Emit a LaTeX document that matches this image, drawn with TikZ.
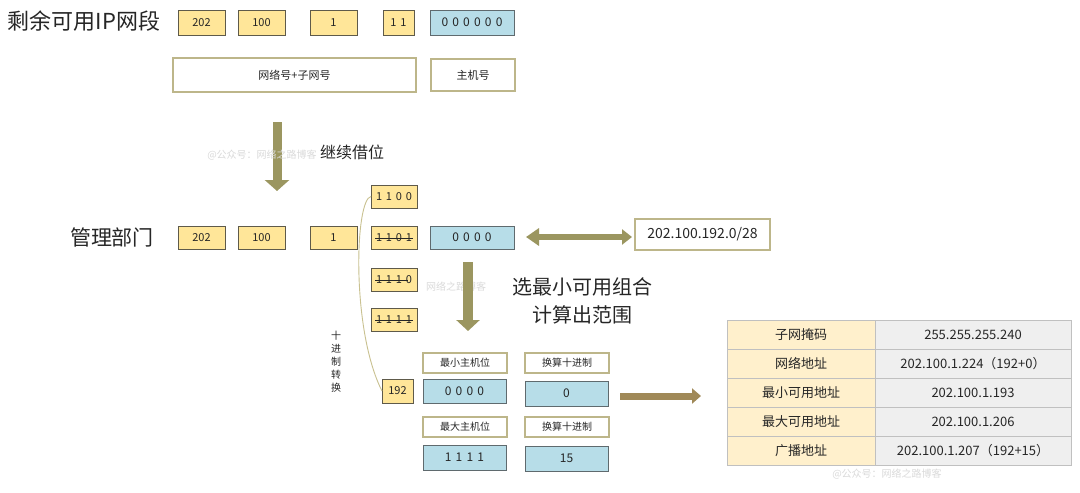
\documentclass[tikz,border=0pt]{standalone}
\usepackage{fontspec}
\setmainfont{Noto Sans CJK SC}
\usetikzlibrary{arrows.meta}
\definecolor{ybfill}{HTML}{FFE699}
\definecolor{ybdraw}{HTML}{5E5A4A}
\definecolor{bbfill}{HTML}{B7DDE8}
\definecolor{bbdraw}{HTML}{5F6A6E}
\definecolor{lbdraw}{HTML}{BDB68A}
\definecolor{olivearr}{HTML}{9B9660}
\definecolor{brownarr}{HTML}{A08958}
\definecolor{curvec}{HTML}{C9C190}
\definecolor{tleft}{HTML}{FFF0CC}
\definecolor{tright}{HTML}{EFEFEF}
\definecolor{tline}{HTML}{C0C0C0}
\definecolor{wmc}{HTML}{DADADA}
\definecolor{txt}{HTML}{262626}
\begin{document}
\begin{tikzpicture}[x=1pt,y=-1pt,
  cell/.style={inner sep=0pt, outer sep=0pt, text=txt},
  ybox/.style={cell, draw=ybdraw, fill=ybfill, line width=0.8pt, font=\fontsize{11}{13}\selectfont},
  bbox/.style={cell, draw=bbdraw, fill=bbfill, line width=0.8pt, font=\fontsize{12}{14}\selectfont},
  lbox/.style={cell, draw=lbdraw, fill=white, line width=1.1pt, font=\fontsize{10}{12}\selectfont},
  tl/.style={cell, draw=tline, fill=tleft, line width=0.8pt, minimum width=148pt, minimum height=29pt, font=\fontsize{13}{15}\selectfont},
  tr/.style={cell, draw=tline, fill=tright, line width=0.8pt, minimum width=196pt, minimum height=29pt, font=\fontsize{13}{15}\selectfont},
  wm/.style={text=wmc, font=\fontsize{10}{12}\selectfont, inner sep=0pt},
  strike/.style={draw=txt, line width=0.7pt}
]
\useasboundingbox[fill=white] (0,0) rectangle (1080,493);

% ---------- Row 1 ----------
\node[font=\fontsize{22}{26}\selectfont, text=txt, inner sep=0pt] (title1) at (84,21) {剩余可用IP网段};
\node[ybox, minimum width=47pt, minimum height=25pt] (a202) at (201.5,22.5) {202};
\node[ybox, minimum width=47pt, minimum height=25pt] (a100) at (261.5,22.5) {100};
\node[ybox, minimum width=47pt, minimum height=25pt] (a1) at (333.5,22.5) {1};
\node[ybox, minimum width=31pt, minimum height=25pt] (a11) at (398.5,22.5) {1\hspace{0.35em}1};
\node[bbox, minimum width=84pt, minimum height=25pt] (a0) at (472,22.5) {0\hspace{0.35em}0\hspace{0.35em}0\hspace{0.35em}0\hspace{0.35em}0\hspace{0.35em}0};

\node[lbox, minimum width=243pt, minimum height=34pt, font=\fontsize{11}{13}\selectfont] (net) at (294.5,75) {网络号+子网号};
\node[lbox, minimum width=84pt, minimum height=32pt, font=\fontsize{11}{13}\selectfont] (host) at (473,75) {主机号};

% ---------- arrow 1 ----------
\coordinate (d1s) at (277,122);
\coordinate (d1e) at (277,191);
\draw[olivearr, line width=9pt, -{Triangle[length=11pt,width=24pt]}] (d1s) -- (d1e);
\node[wm] (wm1) at (262,155) {@公众号：网络之路博客};
\node[font=\fontsize{16}{19}\selectfont, text=txt, inner sep=0pt] (borrow) at (352,152) {继续借位};

% ---------- Row 3 ----------
\node[font=\fontsize{21}{25}\selectfont, text=txt, inner sep=0pt] (dept) at (112,237) {管理部门};
\node[ybox, minimum width=47pt, minimum height=23pt] (b202) at (201.5,237.5) {202};
\node[ybox, minimum width=47pt, minimum height=23pt] (b100) at (261.5,237.5) {100};
\node[ybox, minimum width=47pt, minimum height=23pt] (b1) at (333.5,237.5) {1};
\node[ybox, minimum width=46pt, minimum height=23pt] (b1100) at (394,196.5) {1\hspace{0.35em}1\hspace{0.35em}0\hspace{0.35em}0};
\node[ybox, minimum width=46pt, minimum height=23pt] (b1101) at (394,237.5) {1\hspace{0.35em}1\hspace{0.35em}0\hspace{0.35em}1};
\node[ybox, minimum width=46pt, minimum height=23pt] (b1110) at (394,279.5) {1\hspace{0.35em}1\hspace{0.35em}1\hspace{0.35em}0};
\node[ybox, minimum width=46pt, minimum height=23pt] (b1111) at (394,319.5) {1\hspace{0.35em}1\hspace{0.35em}1\hspace{0.35em}1};
\draw[strike] ([xshift=-19pt,yshift=-0.5pt]b1101.center) -- ([xshift=19pt,yshift=-0.5pt]b1101.center);
\draw[strike] ([xshift=-19pt,yshift=-0.5pt]b1110.center) -- ([xshift=14pt,yshift=-0.5pt]b1110.center);
\draw[strike] ([xshift=-19pt,yshift=-0.5pt]b1111.center) -- ([xshift=19pt,yshift=-0.5pt]b1111.center);
\node[bbox, minimum width=84pt, minimum height=23pt] (b0) at (472,237.5) {0\hspace{0.35em}0\hspace{0.35em}0\hspace{0.35em}0};

\node[cell, draw=lbdraw, line width=1.1pt, fill=white, minimum width=135pt, minimum height=31pt, font=\fontsize{14}{17}\selectfont] (res) at (702.5,234.5) {202.100.192.0/28};
\coordinate (da1) at (526,237);
\coordinate (da2) at (632,237);
\draw[olivearr, line width=6pt, {Triangle[length=13pt,width=17pt]}-{Triangle[length=10pt,width=15pt]}] (da1) -- (da2);

\node[wm] (wm2) at (456,287) {网络之路博客};

% ---------- curve and decimal ----------
\node[ybox, minimum width=31pt, minimum height=24pt] (b192) at (397.5,391) {192};
\draw[curvec, line width=0.9pt] (b1100.west) .. controls (355,199) and (351,330) .. (b192.west);
\node[font=\fontsize{10}{13}\selectfont, text=txt, align=center, inner sep=0pt] (conv) at (336,362) {十\\进\\制\\转\\换};

% ---------- arrow 2 ----------
\coordinate (d2s) at (468,262);
\coordinate (d2e) at (468,331);
\draw[olivearr, line width=10pt, -{Triangle[length=11pt,width=23pt]}] (d2s) -- (d2e);
\node[font=\fontsize{20}{28}\selectfont, text=txt, align=center, inner sep=0pt] (pick) at (582,301) {选最小可用组合\\计算出范围};

% ---------- lower boxes ----------
\node[lbox, minimum width=84pt, minimum height=20pt] (minL) at (465,363) {最小主机位};
\node[lbox, minimum width=84pt, minimum height=20pt] (cvt1) at (567,363) {换算十进制};
\node[bbox, minimum width=83pt, minimum height=24pt] (min0) at (464.5,391) {0\hspace{0.35em}0\hspace{0.35em}0\hspace{0.35em}0};
\node[bbox, minimum width=83pt, minimum height=25pt] (dec0) at (566.5,393.5) {0};
\node[lbox, minimum width=84pt, minimum height=20pt] (maxL) at (465,427) {最大主机位};
\node[lbox, minimum width=84pt, minimum height=20pt] (cvt2) at (567,427) {换算十进制};
\node[bbox, minimum width=83pt, minimum height=25pt] (max1) at (464.5,457.5) {1\hspace{0.35em}1\hspace{0.35em}1\hspace{0.35em}1};
\node[bbox, minimum width=83pt, minimum height=25pt] (dec15) at (566.5,458.5) {15};

% ---------- arrow 3 ----------
\coordinate (r1) at (620,396);
\coordinate (r2) at (701,396);
\draw[brownarr, line width=7pt, -{Triangle[length=9pt,width=15pt]}] (r1) -- (r2);

% ---------- table ----------
\node[tl] (t1l) at (801,334.5) {子网掩码};
\node[tr] (t1r) at (973,334.5) {255.255.255.240};
\node[tl] (t2l) at (801,363.5) {网络地址};
\node[tr] (t2r) at (973,363.5) {202.100.1.224（192+0）};
\node[tl] (t3l) at (801,392.5) {最小可用地址};
\node[tr] (t3r) at (973,392.5) {202.100.1.193};
\node[tl] (t4l) at (801,421.5) {最大可用地址};
\node[tr] (t4r) at (973,421.5) {202.100.1.206};
\node[tl] (t5l) at (801,450.5) {广播地址};
\node[tr] (t5r) at (973,450.5) {202.100.1.207（192+15）};
\node[wm] (wm3) at (887,474) {@公众号：网络之路博客};
\end{tikzpicture}
\end{document}
